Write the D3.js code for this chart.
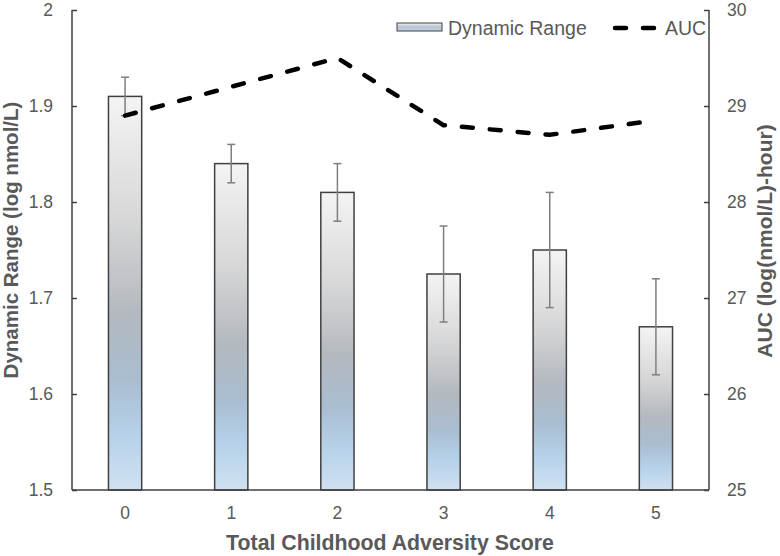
<!DOCTYPE html>
<html><head><meta charset="utf-8">
<script src="https://cdn.jsdelivr.net/npm/d3@7"></script>
<style>body{margin:0;background:#fff;} text{font-family:Arial,"Liberation Sans",sans-serif;}</style>
</head><body>
<svg id="c" width="780" height="556"></svg>
<script>
const categories = ["0","1","2","3","4","5"];
const dynamicRange = [1.91, 1.84, 1.81, 1.725, 1.75, 1.67];
const dynamicRangeErr = [0.02, 0.02, 0.03, 0.05, 0.06, 0.05];
const auc = [28.9, 29.2, 29.5, 28.8, 28.7, 28.85];
const leftTicks = [1.5, 1.6, 1.7, 1.8, 1.9, 2];
const rightTicks = [25, 26, 27, 28, 29, 30];

const svg = d3.select("#c");
const L = 72, R = 709, T = 10, B = 490;
const x = d3.scaleBand().domain(categories).range([L, R]).paddingInner(0.687).paddingOuter(0.3435);
const yL = d3.scaleLinear().domain([1.5, 2]).range([B, T]);
const yR = d3.scaleLinear().domain([25, 30]).range([B, T]);
const txt = "#595959";

const defs = svg.append("defs");
const g = defs.append("linearGradient").attr("id","barg").attr("x1",0).attr("y1",0).attr("x2",0).attr("y2",1);
[[0,"#f4f4f4"],[0.3,"#d8d8d8"],[0.55,"#b4b9bf"],[0.72,"#a9bdd0"],[0.86,"#b6d1e9"],[1,"#d0e1f2"]].forEach(([o,c])=>g.append("stop").attr("offset",o).attr("stop-color",c));
const gh = defs.append("linearGradient").attr("id","legg").attr("x1",0).attr("y1",0).attr("x2",0).attr("y2",1);
[[0,"#eef0f3"],[0.5,"#b8c4d0"],[1,"#bcd4ea"]].forEach(([o,c])=>gh.append("stop").attr("offset",o).attr("stop-color",c));

// bars
svg.selectAll("rect.bar").data(categories).join("rect").attr("class","bar")
  .attr("x", d=>x(d)).attr("width", x.bandwidth())
  .attr("y", (d,i)=>yL(dynamicRange[i])).attr("height",(d,i)=>yL(1.5)-yL(dynamicRange[i]))
  .attr("fill","url(#barg)").attr("stroke","#404040").attr("stroke-width",1.5);

// error bars
const eg = svg.append("g").attr("stroke","#7f7f7f").attr("stroke-width",1.5);
categories.forEach((c,i)=>{
  const cx = x(c)+x.bandwidth()/2;
  const y1 = yL(dynamicRange[i]+dynamicRangeErr[i]), y2 = yL(dynamicRange[i]-dynamicRangeErr[i]);
  eg.append("line").attr("x1",cx).attr("x2",cx).attr("y1",y1).attr("y2",y2);
  eg.append("line").attr("x1",cx-4).attr("x2",cx+4).attr("y1",y1).attr("y2",y1);
  eg.append("line").attr("x1",cx-4).attr("x2",cx+4).attr("y1",y2).attr("y2",y2);
});

// AUC line
const line = d3.line().x((d,i)=>x(categories[i])+x.bandwidth()/2).y(d=>yR(d));
svg.append("path").datum(auc).attr("d",line).attr("fill","none").attr("stroke","#000")
  .attr("stroke-width",4.5).attr("stroke-dasharray","11,17").attr("stroke-linecap","round");

// axes
const axL = svg.append("g").attr("transform",`translate(${L},0)`)
  .call(d3.axisRight(yL).tickValues(leftTicks).tickSize(5).tickFormat(d3.format("")));
axL.selectAll("text").attr("x",-19).attr("text-anchor","end");
const axR = svg.append("g").attr("transform",`translate(${R},0)`)
  .call(d3.axisLeft(yR).tickValues(rightTicks).tickSize(5).tickFormat(d3.format("")));
axR.selectAll("text").attr("x",18).attr("text-anchor","start");
const axB = svg.append("g").attr("transform",`translate(0,${B})`)
  .call(d3.axisBottom(x).tickSize(0).tickPadding(17));
[axL,axR,axB].forEach(a=>{
  a.select(".domain").attr("stroke","#404040").attr("stroke-width",1.5);
  a.selectAll(".tick line").attr("stroke","#404040").attr("stroke-width",1.5);
  a.selectAll("text").attr("fill",txt).style("font-size","17.5px").style("font-family","Arial, 'Liberation Sans', sans-serif");
});
axL.select(".domain").attr("d",`M0,${T}V${B}`);
axR.select(".domain").attr("d",`M0,${T}V${B}`);
axB.select(".domain").attr("d",`M${L},0H${R}`);

// titles
svg.append("text").attr("transform",`translate(18,240) rotate(-90)`).attr("text-anchor","middle")
  .attr("fill",txt).style("font-size","20.5px").style("font-weight","bold").text("Dynamic Range (log nmol/L)");
svg.append("text").attr("transform",`translate(772,241) rotate(-90)`).attr("text-anchor","middle")
  .attr("fill",txt).style("font-size","21px").style("font-weight","bold").text("AUC (log(nmol/L)-hour)");
svg.append("text").attr("x",390).attr("y",550).attr("text-anchor","middle")
  .attr("fill",txt).style("font-size","21.3px").style("font-weight","bold").text("Total Childhood Adversity Score");

// legend
svg.append("rect").attr("x",397).attr("y",23).attr("width",45).attr("height",8)
  .attr("fill","url(#legg)").attr("stroke","#404040").attr("stroke-width",1);
svg.append("text").attr("x",448).attr("y",35).attr("fill",txt).style("font-size","19.5px").text("Dynamic Range");
svg.append("line").attr("x1",615).attr("x2",656).attr("y1",28).attr("y2",28).attr("stroke","#000")
  .attr("stroke-width",4.5).attr("stroke-dasharray","11,17").attr("stroke-linecap","round");
svg.append("text").attr("x",665).attr("y",35).attr("fill",txt).style("font-size","19.5px").text("AUC");
</script>
</body></html>
